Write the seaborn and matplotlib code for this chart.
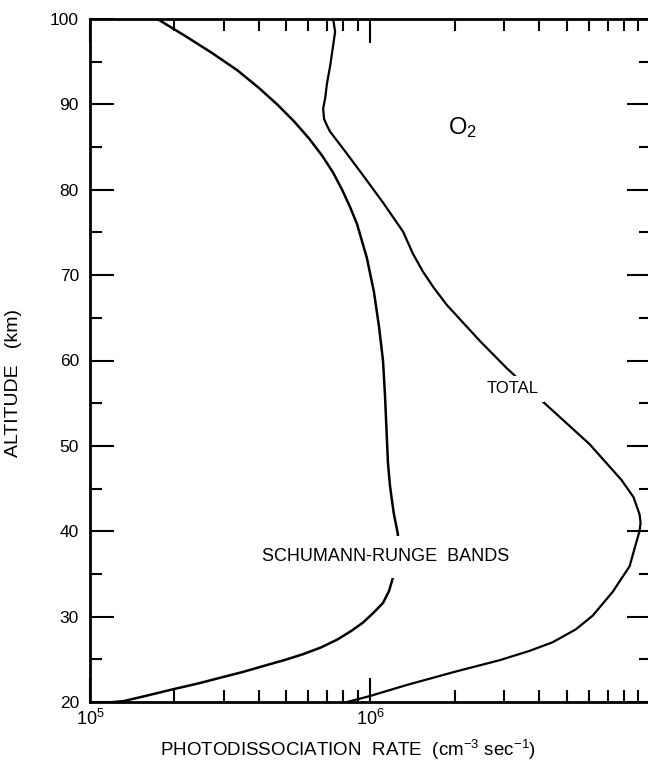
import matplotlib
matplotlib.use("Agg")
import matplotlib.pyplot as plt
import seaborn as sns
import pandas as pd
from matplotlib.ticker import MultipleLocator, LogLocator, NullFormatter

# Schumann-Runge band photodissociation of O2 (cm^-3 s^-1) vs altitude (km)
sr_alt = [100, 98, 96, 94, 92, 90, 88, 86, 84, 82, 80, 78, 76, 72, 68, 64, 60,
          56, 52, 48, 45.4, 44, 42, 39.6,
          34.6, 33.0, 31.6, 30.4, 29.3, 28.3, 27.3, 26.4, 25.6, 24.9, 24.2, 23.5,
          22.9, 22.2, 21.5, 20.8, 20.1, 20.0]
sr_rate = [1.739e5, 2.188e5, 2.729e5, 3.349e5, 3.978e5, 4.648e5, 5.343e5, 6.04e5,
           6.72e5, 7.36e5, 7.92e5, 8.45e5, 8.95e5, 9.71e5, 1.029e6, 1.072e6,
           1.108e6, 1.126e6, 1.140e6, 1.154e6, 1.173e6, 1.188e6, 1.212e6, 1.253e6,
           1.203e6, 1.164e6, 1.108e6, 1.021e6, 9.40e5, 8.52e5, 7.60e5, 6.67e5,
           5.75e5, 4.92e5, 4.14e5, 3.49e5, 2.96e5, 2.45e5, 1.98e5, 1.62e5,
           1.316e5, 1.212e5]

# Total O2 photodissociation rate
tot_alt = [100, 98.5, 94.5, 92.5, 90.7, 89.5, 88.3, 87.5, 86.8, 84.5, 81.7, 78.5,
           75.1, 72.5, 70.4, 68.5, 66.5, 62.3, 59.1, 55.2, 50.2, 46, 44, 42, 41,
           40, 38, 35.9, 32.9, 30.1, 28.5, 27.0, 26.0, 24.9, 23.6, 22.0, 20.7, 20.0]
tot_rate = [7.36e5, 7.48e5, 7.18e5, 7.0e5, 6.89e5, 6.78e5, 6.83e5, 7.0e5, 7.18e5,
            8.12e5, 9.40e5, 1.108e6, 1.306e6, 1.417e6, 1.538e6, 1.683e6, 1.872e6,
            2.453e6, 3.06e6, 4.11e6, 6.04e6, 7.85e6, 8.66e6, 9.10e6, 9.18e6,
            9.10e6, 8.74e6, 8.39e6, 7.30e6, 6.19e6, 5.39e6, 4.46e6, 3.70e6,
            2.89e6, 2.03e6, 1.349e6, 9.96e5, 8.25e5]

x_ticks = [1e5, 1e6, 1e7]
x_ticklabels = ["$10^5$", "$10^6$", ""]
y_ticks = [20, 30, 40, 50, 60, 70, 80, 90, 100]

sns.set_style("ticks")
plt.rcParams["font.family"] = ["Liberation Sans", "DejaVu Sans"]
plt.rcParams["mathtext.default"] = "regular"
for key in ("text.color", "axes.labelcolor", "xtick.color", "ytick.color",
            "axes.edgecolor"):
    plt.rcParams[key] = "black"

fig = plt.figure(figsize=(6.48, 7.62), dpi=100)
ax = fig.add_axes([90 / 648, 60 / 762, 561 / 648, 683 / 762])

sr = pd.DataFrame({"rate": sr_rate, "alt": sr_alt})
tot = pd.DataFrame({"rate": tot_rate, "alt": tot_alt})
sns.lineplot(data=sr, x="rate", y="alt", sort=False, estimator=None,
             color="black", lw=1.8, ax=ax)
sns.lineplot(data=tot, x="rate", y="alt", sort=False, estimator=None,
             color="black", lw=1.6, ax=ax)

ax.set_xscale("log")
ax.set_xlim(1e5, 1e7)
ax.set_ylim(20, 100)

ax.set_xticks(x_ticks)
ax.set_xticklabels(x_ticklabels)
ax.xaxis.set_minor_locator(LogLocator(base=10, subs=range(2, 10)))
ax.xaxis.set_minor_formatter(NullFormatter())
ax.set_yticks(y_ticks)
ax.yaxis.set_minor_locator(MultipleLocator(5))

for s in ax.spines.values():
    s.set_linewidth(2.0)
    s.set_color("black")
    s.set_visible(True)

ax.tick_params(which="both", direction="in", top=True, right=True,
               width=1.5, color="black")
ax.tick_params(which="major", length=17)
ax.tick_params(which="minor", length=8.5)
ax.tick_params(axis="y", pad=8, labelsize=12.5)
ax.tick_params(axis="x", pad=5, labelsize=13)

ax.set_xlabel("PHOTODISSOCIATION  RATE  (cm$^{-3}$ sec$^{-1}$)", fontsize=13.5)
ax.xaxis.set_label_coords(0.46, -0.052)
ax.set_ylabel("ALTITUDE   (km)", fontsize=14)
ax.yaxis.set_label_coords(-0.121, 0.467)

bg = dict(facecolor="white", edgecolor="none", pad=4)
ax.text(2.12e6, 87.3, "O$_2$", fontsize=17, ha="center", va="center")
ax.text(3.21e6, 56.7, "TOTAL", fontsize=12, ha="center", va="center", bbox=bg)
ax.text(1.13e6, 37.0, "SCHUMANN-RUNGE  BANDS", fontsize=13, ha="center",
        va="center", bbox=dict(facecolor="white", edgecolor="none", pad=9))

fig.savefig("out.png", dpi=100)
